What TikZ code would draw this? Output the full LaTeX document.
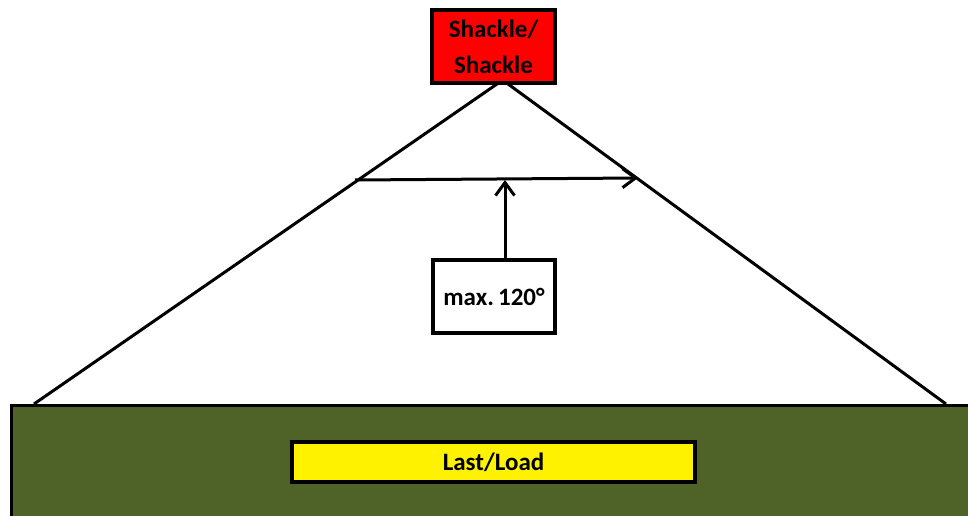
\documentclass[tikz,border=0pt]{standalone}
\usepackage{fontspec}
\setmainfont{Carlito}
\usetikzlibrary{arrows.meta}
\definecolor{loadgreen}{HTML}{4F6228}
\tikzset{
  box/.style={draw=black, line width=4pt, inner sep=0pt, font=\bfseries\fontsize{25}{36}\selectfont, align=center},
  sling/.style={draw=black, line width=3pt},
  arr/.style={draw=black, line width=3pt, -{Straight Barb[length=13pt,width=19pt,line width=3pt]}}
}
\begin{document}
\begin{tikzpicture}[x=1pt,y=-1pt]
\clip (0,0) rectangle (968,516);
\fill[white] (0,0) rectangle (968,516);
% load body
\node[draw=black, line width=3pt, fill=loadgreen, minimum width=970pt, minimum height=113pt, anchor=north west, inner sep=0pt] (body) at (10,404) {};
\node[box, line width=3.5pt, fill=yellow, minimum width=403pt, minimum height=40pt] (load) at (493.5,462) {Last/Load};
% shackle
\node[box, fill=red, minimum width=123pt, minimum height=73pt] (shackle) at (493.5,46.5) {Shackle/\\Shackle};
\coordinate (apexL) at (497,84);
\coordinate (apexR) at (508,84);
\coordinate (footL) at (34,404);
\coordinate (footR) at (946,404);
\draw[sling] (apexL) -- (footL);
\draw[sling] (apexR) -- (footR);
% angle arrow
\coordinate (hL) at (355,180);
\coordinate (hR) at (638,178);
\draw[arr] (hL) -- (hR);
% label
\node[box, fill=white, minimum width=122pt, minimum height=73pt] (label) at (494,296.5) {max.\,120°};
\coordinate (vtop) at (505,180);
\draw[arr] (label.north -| vtop) -- (vtop);
\end{tikzpicture}
\end{document}
